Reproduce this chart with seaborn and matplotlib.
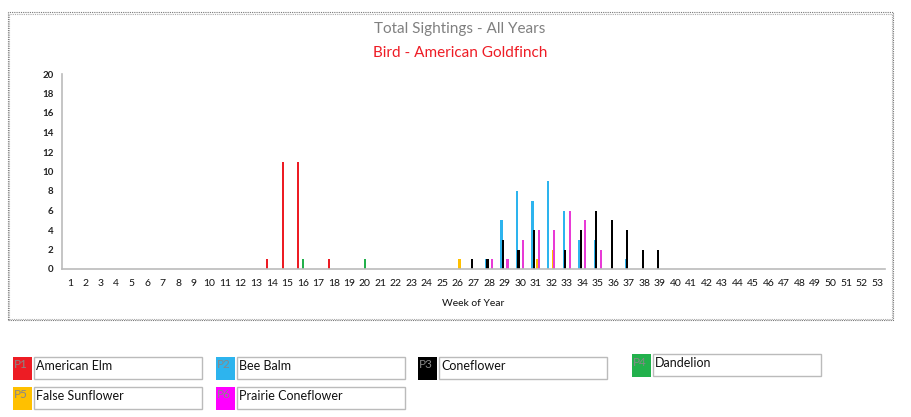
import matplotlib
matplotlib.use("Agg")
import matplotlib.pyplot as plt
from matplotlib.patches import Rectangle
import seaborn as sns
import pandas as pd

# ---- data ----
weeks = list(range(1, 54))
series_codes = ["P1", "P2", "P3", "P4", "P5", "P6"]
series_names = ["American Elm", "Bee Balm", "Coneflower", "Dandelion",
                "False Sunflower", "Prairie Coneflower"]
series_colors = ["#ED1C24", "#2DB4EE", "#000000", "#22B14C", "#FFC000", "#E83AD6"]
swatch_colors = ["#ED1C24", "#2DB4EE", "#000000", "#22B14C", "#FFC000", "#FF00FF"]

american_elm = {14: 1, 15: 11, 16: 11, 18: 1}
bee_balm = {28: 1, 29: 5, 30: 8, 31: 7, 32: 9, 33: 6, 34: 3, 35: 3, 37: 1}
coneflower = {27: 1, 28: 1, 29: 3, 30: 2, 31: 4, 33: 2, 34: 4, 35: 6,
              36: 5, 37: 4, 38: 2, 39: 2}
dandelion = {16: 1, 20: 1}
false_sunflower = {26: 1, 31: 1, 32: 2}
prairie_coneflower = {28: 1, 29: 1, 30: 3, 31: 4, 32: 4, 33: 6, 34: 5, 35: 2}

title = "Total Sightings - All Years"
subtitle = "Bird - American Goldfinch"
xlabel = "Week of Year"
yticks = list(range(0, 21, 2))

all_series = [american_elm, bee_balm, coneflower, dandelion,
              false_sunflower, prairie_coneflower]

rows = []
for name, s in zip(series_names, all_series):
    for w in weeks:
        rows.append({"week": str(w), "series": name, "count": s.get(w, 0)})
df = pd.DataFrame(rows)

# ---- figure ----
W, H = 912, 417
fig = plt.figure(figsize=(W / 100, H / 100), dpi=100)
sns.set_style("white")
plt.rcParams["font.family"] = ["Lato", "DejaVu Sans"]

def fx(px):
    return px / W

def fy(py):
    return 1 - py / H

ax = fig.add_axes([fx(62), fy(269), fx(885) - fx(62), fy(74) - fy(269)])

sns.barplot(data=df, x="week", y="count", hue="series",
            order=[str(w) for w in weeks], hue_order=series_names,
            palette=series_colors, width=0.58, dodge=True,
            errorbar=None, legend=False, ax=ax, saturation=1,
            linewidth=0)

# slightly widen the very thin bars and shift group a little left
for p in ax.patches:
    w = p.get_width()
    c = p.get_x() + w / 2 - 0.05
    nw = w * 1.45
    p.set_x(c - nw / 2)
    p.set_width(nw)

ax.set_xlim(-0.5, len(weeks) - 0.5)
ax.set_ylim(0, 20)
ax.set_yticks(yticks)
ax.set_yticklabels([str(v) for v in yticks], fontsize=7, fontweight="bold",
                   color="#222222")
ax.set_xticks(range(len(weeks)))
ax.set_xticklabels([str(w) for w in weeks], fontsize=7.5, color="#111111")
ax.set_xticks([i - 0.5 for i in range(len(weeks) + 1)], minor=True)
ax.tick_params(axis="x", which="major", length=0, pad=7)
ax.tick_params(axis="x", which="minor", length=6, direction="inout",
               color="#BBBBBB", width=1)
ax.tick_params(axis="y", which="major", length=4, direction="inout",
               color="#BBBBBB", width=1, pad=4)
ax.set_xlabel(xlabel, fontsize=7.5, color="#111111", labelpad=8)
ax.set_ylabel("")
for side in ["top", "right"]:
    ax.spines[side].set_visible(False)
for side in ["left", "bottom"]:
    ax.spines[side].set_color("#BBBBBB")
    ax.spines[side].set_linewidth(1.2)
ax.grid(False)

# titles
fig.text(fx(460), fy(29), title, ha="center", va="center",
         fontsize=11, color="#808080")
fig.text(fx(460), fy(53), subtitle, ha="center", va="center",
         fontsize=11, color="#EE1C25")

# outer border (thin double grey dotted line)
for off, col in [(0, "#777777"), (1.5, "#AAAAAA")]:
    fig.patches.append(Rectangle((fx(8 + off), fy(320 - off)),
                                 fx(893 - off) - fx(8 + off),
                                 fy(12 + off) - fy(320 - off),
                                 transform=fig.transFigure, fill=False,
                                 edgecolor=col, linewidth=0.8,
                                 linestyle=(0, (1, 1))))

# legend boxes
legend_pos = [(13, 357), (216, 357), (418, 357), (632, 354), (13, 387), (216, 387)]
for (x0, y0), code, name, col in zip(legend_pos, series_codes, series_names,
                                     swatch_colors):
    fig.patches.append(Rectangle((fx(x0), fy(y0 + 23)), fx(19), fy(0) - fy(23),
                                 transform=fig.transFigure, facecolor=col,
                                 edgecolor="none"))
    fig.text(fx(x0 + 1), fy(y0 + 8), code, ha="left", va="center",
             fontsize=8.5, color="#888888")
    fig.patches.append(Rectangle((fx(x0 + 21), fy(y0 + 22)), fx(168), fy(0) - fy(22),
                                 transform=fig.transFigure, facecolor="white",
                                 edgecolor="#BBBBBB", linewidth=1))
    fig.text(fx(x0 + 23), fy(y0 + 9), name, ha="left", va="center",
             fontsize=9, color="#111111")

fig.savefig("out.png", dpi=100)
